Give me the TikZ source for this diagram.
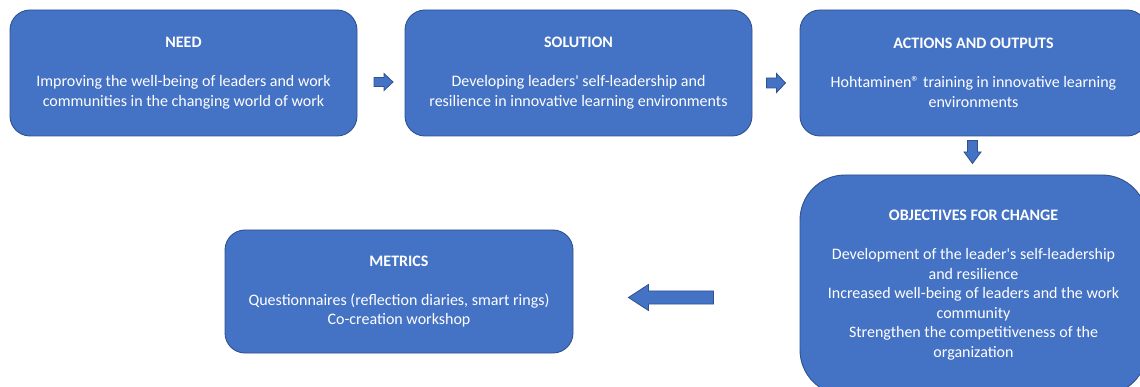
\documentclass[tikz,border=0pt]{standalone}
\usepackage{fontspec}
\setmainfont{Carlito}
\usetikzlibrary{calc}
\definecolor{boxblue}{HTML}{4472C4}
\definecolor{boxedge}{HTML}{2F528F}
\tikzset{
  stage/.style={draw=boxedge, line width=0.9pt, fill=boxblue, rounded corners=20pt,
    text=white, align=center, inner sep=0pt,
    font=\fontsize{16}{19.5}\selectfont},
  flowarrow/.style={draw=boxedge, line width=0.8pt, fill=boxblue, line join=miter}
}
\newcommand{\stagetitle}[1]{\textbf{#1}\\[19.5pt]}
\begin{document}
\begin{tikzpicture}[x=1pt, y=-1pt]
  \useasboundingbox (0,0) rectangle (1140,387);
  \clip (0,0) rectangle (1140,387);

  % process stages
  \node[stage, minimum width=347, minimum height=126] (need) at (183.5,73)
    {\stagetitle{NEED}Improving the well-being of leaders and work\\communities in the changing world of work};
  \node[stage, minimum width=347, minimum height=126] (sol) at (578.5,73)
    {\stagetitle{SOLUTION}Developing leaders\textquotesingle{} self-leadership and\\resilience in innovative learning environments};
  \node[stage, minimum width=347, minimum height=126] (act) at (973.5,73)
    {\stagetitle{ACTIONS AND OUTPUTS}Hohtaminen® training in innovative learning\\environments};
  \node[stage, rounded corners=45pt, minimum width=347, minimum height=220] (obj) at (973.5,285)
    {\stagetitle{OBJECTIVES FOR CHANGE}Development of the leader\textquotesingle s self-leadership\\and resilience\\Increased well-being of leaders and the work\\community\\Strengthen the competitiveness of the\\organization};
  \node[stage, minimum width=348, minimum height=123] (met) at (399,291.5)
    {\stagetitle{METRICS}Questionnaires (reflection diaries, smart rings)\\Co-creation workshop};

  % block arrows between the stages
  \coordinate (a1) at ($($(need.east)!0.5!(sol.west)$)+(2.5,9)$);
  \coordinate (a2) at ($($(sol.east)!0.5!(act.west)$)+(0,10)$);
  \coordinate (a3) at ($($(act.south)!0.5!(obj.north)$)+(-1,-3.5)$);
  \coordinate (a4) at ($(met.east)+(97.5,6)$);

  \begin{scope}[shift={(a1)}]
    \draw[flowarrow] (-9.5,-4.5) -- (0.5,-4.5) -- (0.5,-8.5) -- (9.5,0) -- (0.5,8.5) -- (0.5,4.5) -- (-9.5,4.5) -- cycle;
  \end{scope}
  \begin{scope}[shift={(a2)}]
    \draw[flowarrow] (-9.5,-5) -- (0.5,-5) -- (0.5,-9.5) -- (9.5,0) -- (0.5,9.5) -- (0.5,5) -- (-9.5,5) -- cycle;
  \end{scope}
  \begin{scope}[shift={(a3)}]
    \draw[flowarrow] (-5,-11.5) -- (5,-11.5) -- (5,0) -- (8.5,0) -- (0,11.5) -- (-8.5,0) -- (-5,0) -- cycle;
  \end{scope}
  \begin{scope}[shift={(a4)}]
    \draw[flowarrow] (42.5,-6.5) -- (-22.5,-6.5) -- (-22.5,-13) -- (-42.5,0) -- (-22.5,13) -- (-22.5,6.5) -- (42.5,6.5) -- cycle;
  \end{scope}
\end{tikzpicture}
\end{document}
